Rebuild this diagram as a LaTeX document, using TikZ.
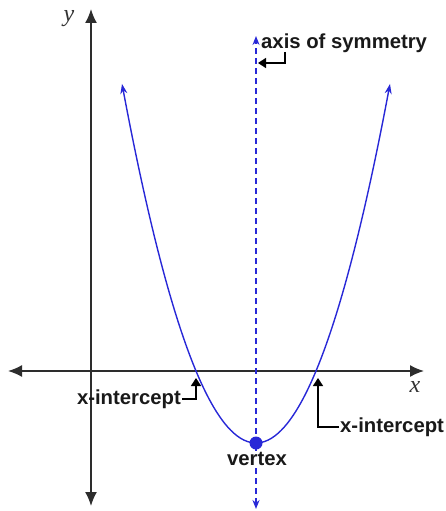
\documentclass[tikz,border=0pt]{standalone}
\usepackage{fontspec}
\setmainfont{Liberation Serif}
\newfontfamily\labelfont{Liberation Sans}
\usetikzlibrary{arrows.meta}
\definecolor{curveblue}{RGB}{40,40,215}
\definecolor{axisgray}{RGB}{45,45,45}
\begin{document}
\begin{tikzpicture}[x=1pt,y=-1pt,
  axisline/.style={draw=axisgray,line width=1.6pt,{Latex[length=14pt,width=12pt]}-{Latex[length=14pt,width=12pt]}},
  curve/.style={draw=curveblue,line width=1.4pt,{Stealth[length=10pt,width=7pt]}-{Stealth[length=10pt,width=7pt]}},
  symline/.style={draw=curveblue,line width=1.8pt,dash pattern=on 6pt off 4pt,{Stealth[length=9pt,width=7pt]}-{Stealth[length=9pt,width=7pt]}},
  callout/.style={draw=black,line width=1.4pt,-{Triangle[length=8pt,width=10pt]}},
  lbl/.style={font=\labelfont\bfseries\fontsize{20.3}{21}\selectfont,inner sep=0pt,text=black!90},
  axlbl/.style={font=\itshape\fontsize{24}{24}\selectfont,inner sep=0pt,text=black!80}]
\useasboundingbox (0,0) rectangle (445,511);
% axes
\coordinate (xl) at (8,371);
\coordinate (xr) at (424,371);
\coordinate (yt) at (91,9);
\coordinate (yb) at (91,506);
\draw[axisline] (xl) -- (xr);
\draw[axisline] (yb) -- (yt);
\node[axlbl] (ylab) at (69,19) {y};
\node[axlbl] (xlab) at (415,387) {x};
% axis of symmetry
\coordinate (st) at (256,36);
\coordinate (sb) at (256,509);
\draw[symline] (sb) -- (st);
% parabola
\draw[curve] plot[domain=-13.4:13.4,samples=80,smooth] ({256+10*\x},{443-2*\x*\x});
% vertex
\coordinate (vtx) at (256,443);
\fill[curveblue] (vtx) circle (6.5pt);
\node[lbl,fill=white,inner sep=1pt] (vlab) at (257,459) {vertex};
% intercepts
\coordinate (i1) at (196,378);
\coordinate (i2) at (318,378);
\node[lbl,anchor=east] (il) at (181,399) {x-intercept};
\node[lbl,anchor=west] (ir) at (340,427) {x-intercept};
\draw[callout] ([xshift=1pt]il.east) -| (i1);
\draw[callout] ([xshift=-1pt]ir.west) -| (i2);
% axis of symmetry label
\node[lbl,anchor=west] (alab) at (261,43) {axis of symmetry};
\coordinate (atip) at (258,63);
\coordinate (astart) at (285,52);
\draw[callout] (astart) |- (atip);
\end{tikzpicture}
\end{document}
